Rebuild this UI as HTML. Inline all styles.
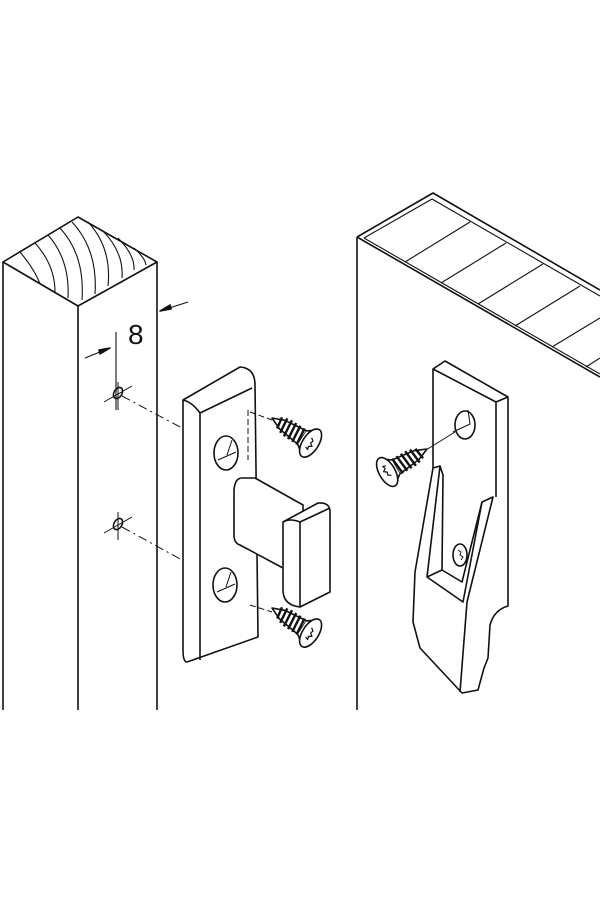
<!DOCTYPE html>
<html><head><style>html,body{margin:0;padding:0;background:#fff}svg{display:block}</style></head>
<body>
<svg width="600" height="900" viewBox="0 0 600 900" xmlns="http://www.w3.org/2000/svg" fill="none" stroke="#111" stroke-width="1.6" stroke-linejoin="round">
<defs>
<g id="scr">
  <path d="M0,0 L12,-5 L36,-8 L36,8 L12,5 Z" fill="#fff"/>
  <path d="M8,-6 L10,6 M13,-8 L15,8 M18,-9 L20,9 M23,-9 L25,9 M28,-9 L30,9 M33,-9 L35,9" stroke-width="2.4"/>
  <path d="M36,-8 L44,-14 L44,14 L36,8" fill="#fff"/>
  <ellipse cx="46" cy="0" rx="8" ry="16" fill="#fff"/>
  <path d="M44,-5 l3,2 l-1,3 l3,2 l-3,2 l1,3 l-3,-1" stroke-width="1.2"/>
</g>
</defs>
<!-- post -->
<path d="M3,262 L78,217 L157,262 L78,306 Z" fill="#fff"/>
<path d="M3,262 L3,710 M78,306 L78,710 M157,262 L157,710"/>
<g stroke-width="1.1">
<path d="M20,252 Q35,270 40,284"/>
<path d="M35,243 Q55,265 55,292"/>
<path d="M48,235 Q70,260 68,298"/>
<path d="M60,228 Q85,255 82,300"/>
<path d="M72,222 Q98,250 95,294"/>
<path d="M88,222 Q112,248 108,286"/>
<path d="M102,230 Q124,252 122,278"/>
<path d="M118,238 Q135,255 134,270"/>
<path d="M134,248 Q145,258 146,265"/>
</g>
<!-- dimension -->
<path d="M160,311 L188,302 M85,358 L110,348 M116,332 L116,410" stroke-width="1.1"/>
<path d="M160,311 l10,-6 l1,4 Z M110,348 l-10,6 l-1,-4 Z" fill="#111"/>
<text x="128" y="344" font-family="Liberation Sans, sans-serif" font-size="28" fill="#111" stroke="none">8</text>
<!-- holes -->
<ellipse cx="118" cy="393" rx="4" ry="6" transform="rotate(30 118 393)"/>
<ellipse cx="118" cy="524" rx="4" ry="6" transform="rotate(30 118 524)"/>
<path d="M104,402 L132,386 M104,533 L132,517 M118,382 L118,410 M118,512 L118,540" stroke-width="1"/>
<path d="M122,396 L182,428 M122,527 L182,560" stroke-width="1" stroke-dasharray="9,4,2,4"/>
<!-- plate -->
<path d="M183,400 L240,367 Q255,368 255,385 L258,637 L187,662 Q183,662 183,650 Z" fill="#fff"/>
<path d="M200,413 L200,660 M200,413 L252,388 M183,400 Q192,402 200,413"/>
<ellipse cx="226" cy="453" rx="12" ry="17"/>
<ellipse cx="225" cy="585" rx="12" ry="17"/>
<path d="M218,460 L236,452 M227,455 L232,440 M217,592 L235,584 M226,587 L231,572" stroke-width="1"/>
<path d="M248,410 L248,460" stroke-width="1" stroke-dasharray="6,3"/>
<!-- latch block -->
<path d="M242,478 L255,478 L303,505 L303,540 L283,568 L240,545 Q234,543 234,535 L234,490 Q235,478 242,478 Z" fill="#fff"/>
<path d="M283,522 L318,503 Q330,502 330,512 L330,592 L300,607 Q283,605 283,590 Z" fill="#fff"/>
<path d="M300,522 L300,607 M283,522 Q290,518 300,522 L330,508"/>
<!-- screws left -->
<path d="M250,412 L272,420 M250,605 L272,612" stroke-width="1" stroke-dasharray="6,3"/>
<use href="#scr" transform="translate(272,418) rotate(33)"/>
<use href="#scr" transform="translate(272,608) rotate(33)"/>
<!-- right panel -->
<path d="M357,237 L433,193 L600,290 M357,237 L600,377 M357,710 L357,237"/>
<path d="M364,238 L432,199 L600,296 M364,238 L600,374" stroke-width="1.1"/>
<path d="M405,262 L470,222 M441,283 L506,243 M478,304 L543,264 M515,326 L580,286 M552,347 L600,318 M586,367 L600,358" stroke-width="1.1"/>
<!-- hook -->
<path d="M433,369 L445,361 L508,397 L508,606 Q494,610 490,625 L488,658 L484,668 L478,690 L462,693 L420,648 L413,622 L415,572 L433,468 Z" fill="#fff"/>
<path d="M433,369 L496,402 L508,397 M496,402 L496,497"/>
<path d="M433,468 L440,466 L427,577 L463,602 L482,502 L493,497 L467,602 L460,692"/>
<path d="M440,466 L443,475 L442,570 L462,582 L482,502 M427,577 L442,570"/>
<ellipse cx="465" cy="425" rx="10" ry="14"/>
<path d="M453,432 L470,424 L468,410" stroke-width="1"/>
<path d="M426,450 L455,432" stroke-width="1"/>
<ellipse cx="460" cy="555" rx="7" ry="11" fill="#fff"/>
<path d="M458,550 l3,2 l-1,3 l3,2 l-2,3" stroke-width="1"/>
<use href="#scr" transform="translate(427,449) rotate(150)"/>
</svg>
</body></html>
